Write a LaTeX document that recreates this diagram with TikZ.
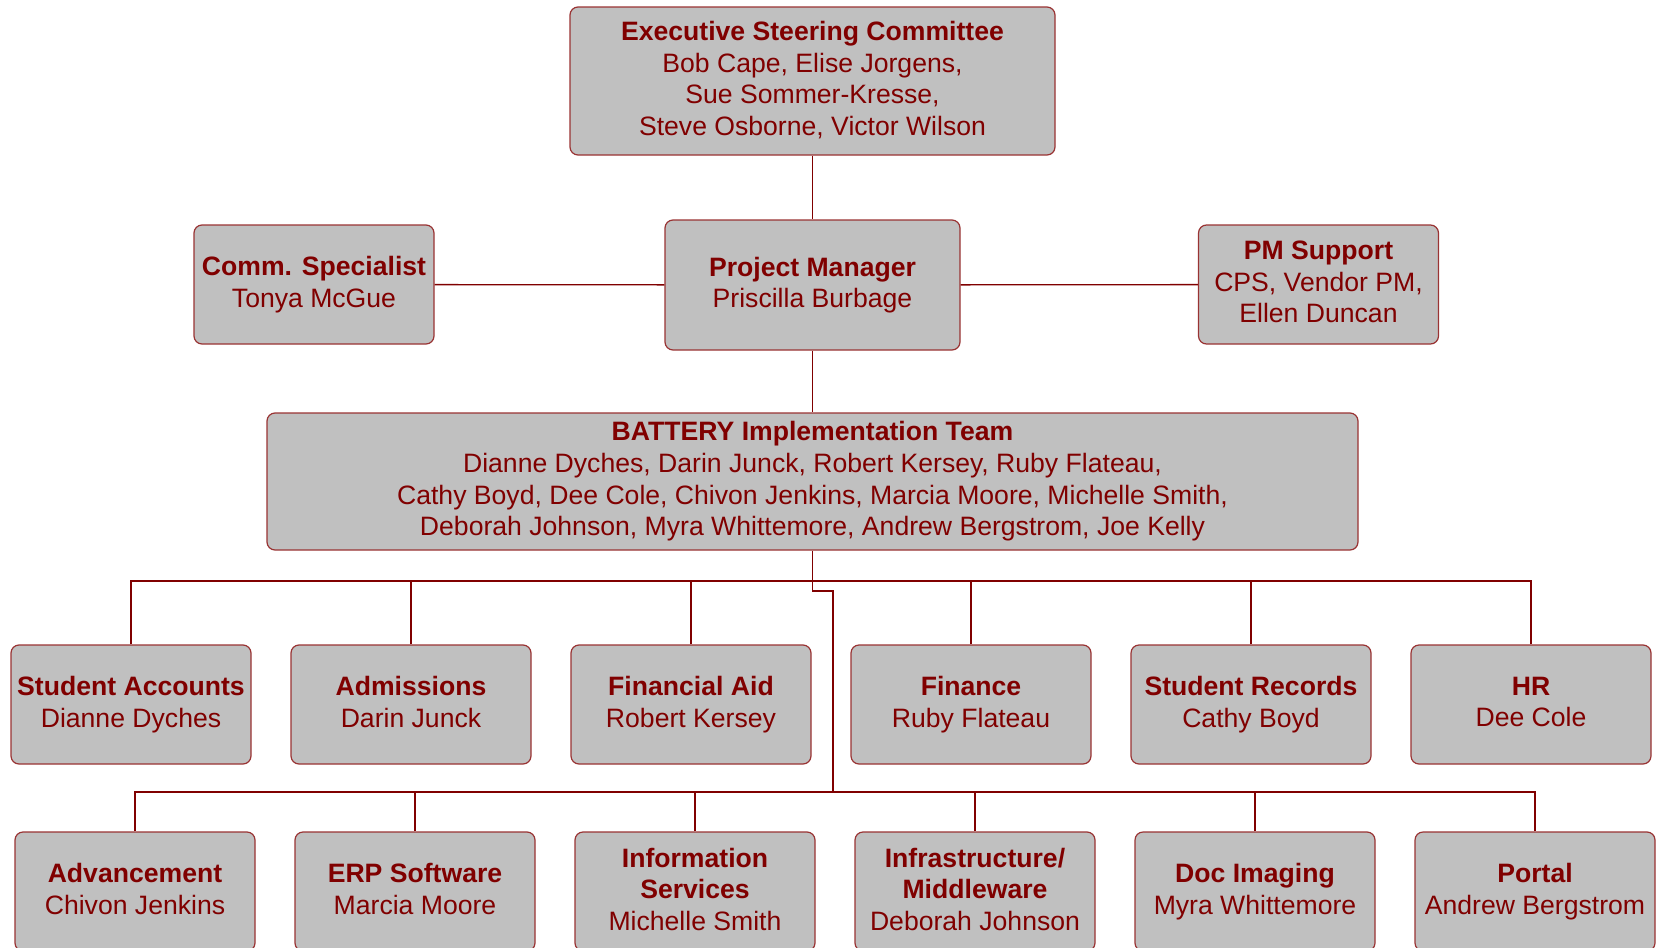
\documentclass[tikz,border=0pt]{standalone}
\usepackage{fontspec}
\setmainfont{Liberation Sans}
\usetikzlibrary{positioning}

\definecolor{maroon}{HTML}{800000}
\definecolor{boxgray}{HTML}{C0C0C0}
\newcommand\boxstrut{\rule[-2.5pt]{0pt}{15.8pt}}

\tikzset{
    unit/.style={draw=maroon!80, fill=boxgray, rounded corners=4pt, line width=0.6pt,
                 text=maroon, align=center, inner sep=0pt,
                 execute at begin node=\boxstrut, execute at end node=\boxstrut,
                 font=\fontsize{13.3}{15.8}\selectfont},
    dept/.style={unit, minimum width=120pt, minimum height=59.5pt},
    link/.style={draw=maroon, line width=0.65pt}
}

\begin{document}
\begin{tikzpicture}[x=0.5pt, y=-0.5pt]
        \useasboundingbox (0,0) rectangle (1656,948);
        \clip (0,0) rectangle (1656,948);

        \node[unit, minimum width=242.5pt, minimum height=74pt] (esc) at (812.5,81)
            {\textbf{Executive Steering Committee}\\Bob Cape, Elise Jorgens,\\Sue Sommer-Kresse,\\Steve Osborne, Victor Wilson};
        \node[unit, minimum width=147.5pt, minimum height=65pt] (pm) at (812.5,285)
            {\textbf{Project Manager}\\Priscilla Burbage};
        \node[dept] (comm) at (314,284.5) {\textbf{Comm. Specialist}\\Tonya McGue};
        \node[dept] (pms) at (1318.5,284.5) {\textbf{PM Support}\\CPS, Vendor PM,\\Ellen Duncan};
        \node[unit, minimum width=545.5pt, minimum height=68.5pt] (team) at (812.5,481.5)
            {\textbf{BATTERY Implementation Team}\\
             Dianne Dyches, Darin Junck, Robert Kersey, Ruby Flateau,\\
             Cathy Boyd, Dee Cole, Chivon Jenkins, Marcia Moore, Michelle Smith,\\
             Deborah Johnson, Myra Whittemore, Andrew Bergstrom, Joe Kelly};

        % first row of teams
        \node[dept] (sa)  at (131,704.5)  {\textbf{Student Accounts}\\Dianne Dyches};
        \node[dept] (adm) at (411,704.5)  {\textbf{Admissions}\\Darin Junck};
        \node[dept] (fa)  at (691,704.5)  {\textbf{Financial Aid}\\Robert Kersey};
        \node[dept] (fin) at (971,704.5)  {\textbf{Finance}\\Ruby Flateau};
        \node[dept] (sr)  at (1251,704.5) {\textbf{Student Records}\\Cathy Boyd};
        \node[dept] (hr)  at (1531,704.5) {\textbf{HR}\\Dee Cole};

        % second row of teams
        \node[dept] (adv) at (135,891.5)  {\textbf{Advancement}\\Chivon Jenkins};
        \node[dept] (erp) at (415,891.5)  {\textbf{ERP Software}\\Marcia Moore};
        \node[dept] (is)  at (695,891.5)  {\textbf{Information}\\\textbf{Services}\\Michelle Smith};
        \node[dept] (im)  at (975,891.5)  {\textbf{Infrastructure/}\\\textbf{Middleware}\\Deborah Johnson};
        \node[dept] (doc) at (1255,891.5) {\textbf{Doc Imaging}\\Myra Whittemore};
        \node[dept] (prt) at (1535,891.5) {\textbf{Portal}\\Andrew Bergstrom};

        \coordinate (bus1) at (812.5,581);
        \coordinate (bend) at (833,591);
        \coordinate (bus2) at (833,792);

        \draw[link] (esc) -- (pm);
        \draw[link] (comm) -- (pm);
        \draw[link] (pm) -- (pms);
        \draw[link] (pm) -- (team);
        \draw[link] (team.south) -- (bus1);
        \draw[link] (bus1) |- (bend) -- (bus2);
        \foreach \n in {sa,adm,fa,fin,sr,hr}
            \draw[link] (\n.north) |- (bus1);
        \foreach \n in {adv,erp,is,im,doc,prt}
            \draw[link] (\n.north) |- (bus2);
\end{tikzpicture}
\end{document}
